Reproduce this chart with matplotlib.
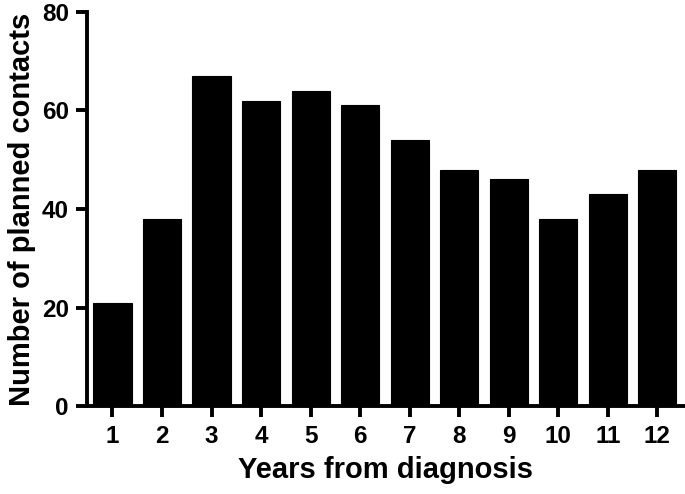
import matplotlib.pyplot as plt

years = [1, 2, 3, 4, 5, 6, 7, 8, 9, 10, 11, 12]
contacts = [21, 38, 67, 62, 64, 61, 54, 48, 46, 38, 43, 48]
y_ticks = [0, 20, 40, 60, 80]

plt.rcParams['font.family'] = ['Liberation Sans', 'DejaVu Sans']
plt.rcParams['font.weight'] = 'bold'

fig = plt.figure(figsize=(6.85, 4.94), dpi=100)
ax = fig.add_axes([0.127, 0.178, 0.873, 0.798])

ax.bar(years, contacts, width=0.77, color='black', edgecolor='black', linewidth=0.8)

ax.set_xlim(0.485, 12.56)
ax.set_ylim(0, 80)
ax.set_xticks(years)
ax.set_yticks(y_ticks)

for side in ['top', 'right']:
    ax.spines[side].set_visible(False)
for side in ['left', 'bottom']:
    ax.spines[side].set_linewidth(2.8)

ax.tick_params(axis='both', width=2.8, length=8)
ax.tick_params(axis='x', labelsize=17.5, pad=5.5)
ax.tick_params(axis='y', labelsize=17.5, pad=5)
for lab in ax.get_xticklabels() + ax.get_yticklabels():
    lab.set_fontweight('bold')

ax.set_xlabel('Years from diagnosis', fontsize=21, fontweight='bold', labelpad=6)
ax.set_ylabel('Number of planned contacts', fontsize=21, fontweight='bold', labelpad=4)

fig.savefig('out.png', dpi=100)
